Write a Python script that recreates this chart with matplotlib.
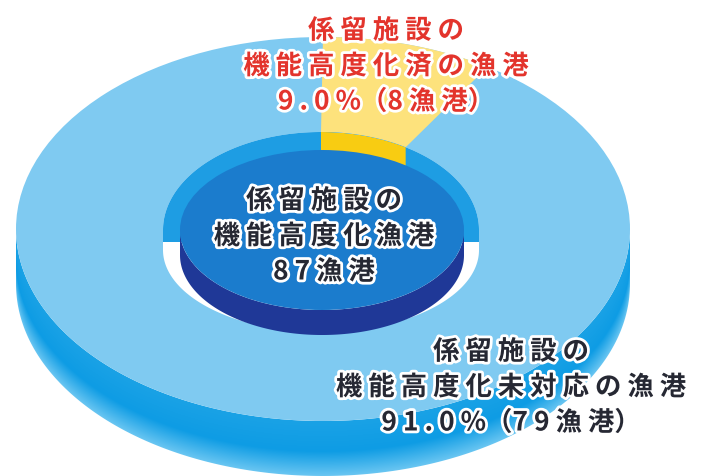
import numpy as np
import matplotlib.pyplot as plt
from matplotlib.patches import Polygon, Ellipse
import matplotlib.patheffects as pe

plt.rcParams['font.family'] = ['Noto Sans CJK JP', 'DejaVu Sans']

# 係留施設の機能高度化 (漁港数)
total_ports = 87
shares = [9.0, 91.0]        # 済, 未対応 (%)
port_counts = [8, 79]       # 済, 未対応
head = '係留施設の'
names = ['機能高度化済の漁港', '機能高度化未対応の漁港']
center_name = '機能高度化漁港'


def arc(cx, cy, a, b, t0, t1, n=240):
    t = np.radians(np.linspace(t0, t1, n))
    return np.column_stack([cx + a * np.cos(t), cy - b * np.sin(t)])


def track(s):
    # letter spacing, but keep the full-width brackets tight
    out = ''
    for i, ch in enumerate(s):
        out += ch
        if i < len(s) - 1 and ch not in '（' and s[i + 1] not in '（）':
            out += ' '
    return out


def hexrgb(h):
    h = h.lstrip('#')
    return np.array([int(h[i:i + 2], 16) for i in (0, 2, 4)]) / 255.0


fig = plt.figure(figsize=(7.1, 4.77), dpi=100)
ax = fig.add_axes([0, 0, 1, 1])
W, H = 710, 477

# ring geometry (pixel units)
cx, cy, A, B, D = 323, 230, 307, 192, 55
hx, hy, ha, hb, hb2, hs = 321, 231, 158, 98, 82, 20
dcx, dcy, da, db, dd = 322, 231, 142, 80, 25

# outer side of the ring, shaded top -> bottom
side = Polygon(np.vstack([arc(cx, cy, A, B, 180, 360),
                          arc(cx, cy + D, A, B, 360, 180)]),
               closed=True, facecolor='none', edgecolor='none')
ax.add_patch(side)
X, Y = np.meshgrid(np.arange(W) + 0.5, np.arange(H) + 0.5)
ytop = cy + B * np.sqrt(np.clip(1 - ((X - cx) / A) ** 2, 0, 1))
s = np.clip((Y - ytop) / D, 0, 1)[..., None]
c0, c1, c2 = hexrgb('#1aa2e6'), hexrgb('#0e9ce4'), hexrgb('#6ac6f2')
img = np.where(s < 0.55, c0 + (c1 - c0) * (s / 0.55),
               c1 + (c2 - c1) * ((s - 0.55) / 0.45))
im = ax.imshow(img, extent=(0, W, H, 0), origin='upper',
               interpolation='bilinear', aspect='auto', zorder=1)
im.set_clip_path(side)

# top face
ax.add_patch(Ellipse((cx, cy), 2 * A, 2 * B, facecolor='#7fcaf1',
                     edgecolor='none', zorder=2))

# 9% segment starts at 12 o'clock and runs clockwise
t_start = 90
t_end = 90 - 360 * shares[0] / 100
ax.add_patch(Polygon(np.vstack([arc(cx, cy, A, B, t_end, t_start),
                                arc(hx, hy, ha, hb, t_start, t_end)]),
                     closed=True, facecolor='#fde27c', edgecolor='none',
                     zorder=3))

# hole
hole_pts = np.vstack([arc(hx, hy, ha, hb, 0, 180),
                      arc(hx, hy + hs, ha, hb2, 180, 360)])
ax.add_patch(Polygon(hole_pts, closed=True, facecolor='white',
                     edgecolor='none', zorder=4))

# back inner wall
wall_pts = np.vstack([arc(hx, hy, ha, hb, 0, 180),
                      [[hx - ha, hy + 12], [hx + ha, hy + 12]]])
wall = Polygon(wall_pts, closed=True, facecolor='#1e9de3',
               edgecolor='none', zorder=5)
ax.add_patch(wall)
ywall = Polygon(np.vstack([arc(hx, hy, ha, hb, t_end, t_start),
                           arc(hx, hy + 60, ha, hb, t_start, t_end)]),
                closed=True, facecolor='#f8cc12', edgecolor='none', zorder=6)
ax.add_patch(ywall)
ywall.set_clip_path(wall)

# centre cylinder: total ports
ax.add_patch(Polygon(np.vstack([arc(dcx, dcy, da, db, 180, 360),
                                arc(dcx, dcy + dd, da, db, 360, 180)]),
                     closed=True, facecolor='#1f3897', edgecolor='none',
                     zorder=7))
ax.add_patch(Ellipse((dcx, dcy), 2 * da, 2 * db, facecolor='#1b7ccd',
                     edgecolor='none', zorder=8))

halo = [pe.withStroke(linewidth=4, foreground='white')]


def label(x, y0, lines, color):
    for i, ln in enumerate(lines):
        ax.text(x, y0 + i * 35.5, track(ln), ha='center', va='center',
                fontsize=19, fontweight='bold', color=color,
                path_effects=halo, zorder=10)


label(386, 32, [head, names[0],
                f'{shares[0]:.1f}%（{port_counts[0]}漁港）'], '#e3342c')
label(324, 202, [head, center_name, f'{total_ports}漁港'], '#262833')
label(511, 353, [head, names[1],
                 f'{shares[1]:.1f}%（{port_counts[1]}漁港）'], '#262833')

ax.set_xlim(0, W)
ax.set_ylim(H, 0)
ax.axis('off')
fig.savefig('out.png', dpi=100)
